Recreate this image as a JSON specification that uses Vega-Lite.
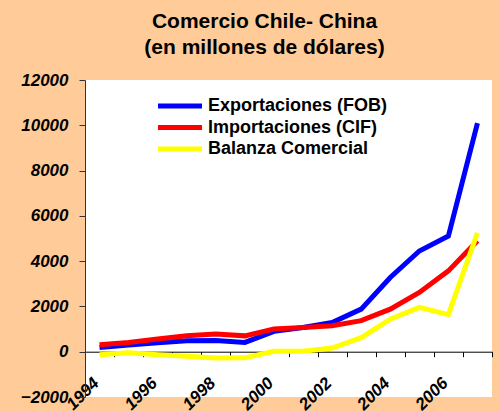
{
  "$schema": "https://vega.github.io/schema/vega-lite/v6.json",
  "width": 407,
  "height": 317,
  "autosize": {"type": "none"},
  "padding": {"left": 85, "top": 80, "right": 8, "bottom": 15},
  "background": "#FFCC99",
  "view": {"fill": "white", "stroke": null},
  "title": {
    "text": ["Comercio Chile- China", "(en millones de dólares)"],
    "font": "Liberation Sans",
    "fontSize": 21,
    "fontWeight": "bold",
    "color": "black",
    "anchor": "middle",
    "dx": -24,
    "lineHeight": 26,
    "offset": 13
  },
  "data": {
    "values": [
      {"year": "1994", "serie": "Exportaciones (FOB)", "valor": 190},
      {"year": "1995", "serie": "Exportaciones (FOB)", "valor": 300},
      {"year": "1996", "serie": "Exportaciones (FOB)", "valor": 400},
      {"year": "1997", "serie": "Exportaciones (FOB)", "valor": 480},
      {"year": "1998", "serie": "Exportaciones (FOB)", "valor": 490},
      {"year": "1999", "serie": "Exportaciones (FOB)", "valor": 410},
      {"year": "2000", "serie": "Exportaciones (FOB)", "valor": 900},
      {"year": "2001", "serie": "Exportaciones (FOB)", "valor": 1070},
      {"year": "2002", "serie": "Exportaciones (FOB)", "valor": 1290},
      {"year": "2003", "serie": "Exportaciones (FOB)", "valor": 1880},
      {"year": "2004", "serie": "Exportaciones (FOB)", "valor": 3280},
      {"year": "2005", "serie": "Exportaciones (FOB)", "valor": 4450},
      {"year": "2006", "serie": "Exportaciones (FOB)", "valor": 5110},
      {"year": "2007", "serie": "Exportaciones (FOB)", "valor": 10100},
      {"year": "1994", "serie": "Importaciones (CIF)", "valor": 310},
      {"year": "1995", "serie": "Importaciones (CIF)", "valor": 410},
      {"year": "1996", "serie": "Importaciones (CIF)", "valor": 560},
      {"year": "1997", "serie": "Importaciones (CIF)", "valor": 700},
      {"year": "1998", "serie": "Importaciones (CIF)", "valor": 780},
      {"year": "1999", "serie": "Importaciones (CIF)", "valor": 700},
      {"year": "2000", "serie": "Importaciones (CIF)", "valor": 1000},
      {"year": "2001", "serie": "Importaciones (CIF)", "valor": 1070},
      {"year": "2002", "serie": "Importaciones (CIF)", "valor": 1150},
      {"year": "2003", "serie": "Importaciones (CIF)", "valor": 1370},
      {"year": "2004", "serie": "Importaciones (CIF)", "valor": 1880},
      {"year": "2005", "serie": "Importaciones (CIF)", "valor": 2620},
      {"year": "2006", "serie": "Importaciones (CIF)", "valor": 3570},
      {"year": "2007", "serie": "Importaciones (CIF)", "valor": 4900},
      {"year": "1994", "serie": "Balanza Comercial", "valor": -130},
      {"year": "1995", "serie": "Balanza Comercial", "valor": -50},
      {"year": "1996", "serie": "Balanza Comercial", "valor": -130},
      {"year": "1997", "serie": "Balanza Comercial", "valor": -200},
      {"year": "1998", "serie": "Balanza Comercial", "valor": -280},
      {"year": "1999", "serie": "Balanza Comercial", "valor": -270},
      {"year": "2000", "serie": "Balanza Comercial", "valor": 20},
      {"year": "2001", "serie": "Balanza Comercial", "valor": 20},
      {"year": "2002", "serie": "Balanza Comercial", "valor": 160},
      {"year": "2003", "serie": "Balanza Comercial", "valor": 620},
      {"year": "2004", "serie": "Balanza Comercial", "valor": 1440},
      {"year": "2005", "serie": "Balanza Comercial", "valor": 1960},
      {"year": "2006", "serie": "Balanza Comercial", "valor": 1640},
      {"year": "2007", "serie": "Balanza Comercial", "valor": 5250}
    ]
  },
  "mark": {"type": "line", "strokeWidth": 5},
  "encoding": {
    "x": {
      "field": "year",
      "type": "ordinal",
      "bandPosition": 0.5,
      "scale": {"type": "band", "paddingInner": 0, "paddingOuter": 0},
      "axis": {
        "title": null,
        "offset": -45.3,
        "domainColor": "black",
        "tickColor": "black",
        "tickSize": 5,
        "tickBand": "extent",
        "labelExpr": "(+datum.value) % 2 == 0 ? datum.value : ''",
        "labelAngle": -45,
        "labelAlign": "right",
        "labelBaseline": "alphabetic",
        "labelPadding": 27,
        "labelFont": "Liberation Sans",
        "labelFontSize": 17,
        "labelFontWeight": "bold",
        "labelFontStyle": "italic",
        "labelColor": "black",
        "labelOverlap": false,
        "labelBound": false,
        "grid": false
      }
    },
    "y": {
      "field": "valor",
      "type": "quantitative",
      "scale": {"domain": [-2000, 12000], "nice": false, "zero": false},
      "axis": {
        "title": null,
        "values": [-2000, 0, 2000, 4000, 6000, 8000, 10000, 12000],
        "format": "d",
        "grid": false,
        "domainColor": "#333333",
        "tickColor": "#333333",
        "tickSize": 6,
        "labelPadding": 11,
        "labelFont": "Liberation Sans",
        "labelFontSize": 17,
        "labelFontWeight": "bold",
        "labelFontStyle": "italic",
        "labelColor": "black",
        "labelOverlap": false,
        "labelBound": false
      }
    },
    "color": {
      "field": "serie",
      "type": "nominal",
      "sort": ["Exportaciones (FOB)", "Importaciones (CIF)", "Balanza Comercial"],
      "scale": {
        "domain": ["Exportaciones (FOB)", "Importaciones (CIF)", "Balanza Comercial"],
        "range": ["#0000FF", "#FF0000", "#FFFF00"]
      },
      "legend": {
        "title": null,
        "orient": "none",
        "legendX": 86,
        "legendY": 17,
        "symbolType": "M-4.4,0H4.4",
        "symbolSize": 100,
        "symbolStrokeWidth": 5,
        "labelOffset": 19,
        "labelFont": "Liberation Sans",
        "labelFontSize": 18,
        "labelFontWeight": "bold",
        "labelColor": "black",
        "rowPadding": 1.5,
        "labelLimit": 400
      }
    }
  }
}
